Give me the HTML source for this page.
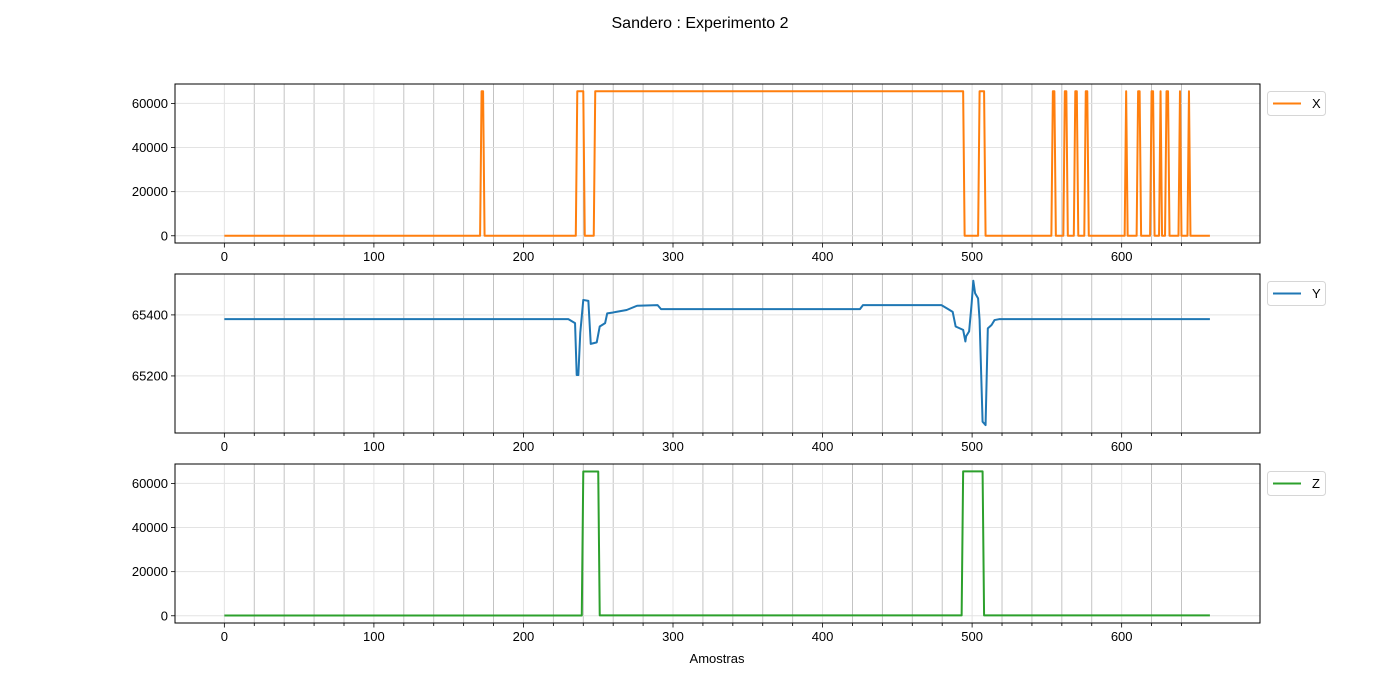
<!DOCTYPE html>
<html><head><meta charset="utf-8">
<style>
html,body{margin:0;padding:0;background:#fff;}
svg{display:block;font-family:"Liberation Sans","DejaVu Sans",sans-serif;}
</style></head>
<body>
<svg id="chart" width="1400" height="700" viewBox="0 0 1400 700" xmlns="http://www.w3.org/2000/svg">
<text x="700" y="28" text-anchor="middle" font-size="16" fill="#000">Sandero : Experimento 2</text>
<text x="717" y="663" text-anchor="middle" font-size="13" fill="#000">Amostras</text>
</svg>
<script>
// ---- data ----
const sampleCount = 660;
const xHighIntervals = [[172,173],[236,240],[248,494],[505,508],[554,555],[562,563],[569,570],[576,577],[603,603],[611,612],[620,621],[626,626],[630,631],[639,639],[645,645]];
const xHighValue = 65535;
const yKnotSamples = [0,228,230,234.5,235.6,236.7,238,240,243.4,245,249,251,254.6,256,260,262,269,276,289.7,292,425,427,479.5,484,487,489,494,495.5,496,498,499.7,500.8,502,504,505,507,509,510.5,513,515,518,659];
const yKnotValues  = [65386,65386,65386,65373,65203,65203,65342,65449,65446,65305,65310,65362,65373,65405,65408,65410,65416,65430,65432,65419,65419,65432,65432,65419,65410,65362,65351,65313,65330,65346,65438,65512,65471,65454,65383,65050,65039,65356,65367,65383,65386,65386];
const zHighIntervals = [[240,250],[494,507]];
const zHighValues = [65400,65450];
const zBaseValues = [100,200];
const xTicks = [0,100,200,300,400,500,600];
const xTickLabels = ["0","100","200","300","400","500","600"];
const yTicksX = [0,20000,40000,60000];
const yTicksY = [65200,65400];
const yTicksZ = [0,20000,40000,60000];

// ---- build series ----
const xSeries = [];
for (let i = 0; i < sampleCount; i++) {
  let v = 0;
  for (const [a,b] of xHighIntervals) if (i >= a && i <= b) v = xHighValue;
  xSeries.push(v);
}
const zSeries = [];
for (let i = 0; i < sampleCount; i++) {
  let v = i < zHighIntervals[0][0] ? zBaseValues[0] : zBaseValues[1];
  zHighIntervals.forEach(([a,b],k) => { if (i >= a && i <= b) v = zHighValues[k]; });
  zSeries.push(v);
}

const svg = document.getElementById('chart');
const NS = 'http://www.w3.org/2000/svg';
function mk(tag, attrs, parent) {
  const e = document.createElementNS(NS, tag);
  for (const k in attrs) e.setAttribute(k, attrs[k]);
  (parent || svg).appendChild(e);
  return e;
}
const L = 175, R = 1260;
const xMin = -33, xMax = 692.5;
const sx = v => L + (v - xMin) / (xMax - xMin) * (R - L);

function panel(name, top, bottom, yMin, yMax, yTicks, xs, ys, color, label) {
  const g = mk('g', {});
  
  
  const sy = v => bottom - (v - yMin) / (yMax - yMin) * (bottom - top);
  for (let t = 0; t <= 640; t += 20) {
    const x = sx(t);
    const major = t % 100 === 0;
    const gl = mk('line', {x1:x, x2:x, y1:top, y2:bottom, stroke: major ? '#e3e3e3' : '#bdbdbd', 'stroke-width': major ? 1 : 0.9}, g);
    
    
    mk('line', {x1:x, x2:x, y1:bottom, y2:bottom + (major ? 4.5 : 3), stroke:'#000', 'stroke-width':0.8}, g);
  }
  yTicks.forEach(t => {
    const y = sy(t);
    const hl = mk('line', {x1:L, x2:R, y1:y, y2:y, stroke:'#e3e3e3', 'stroke-width':1}, g);
    
    
    mk('line', {x1:L - 4, x2:L, y1:y, y2:y, stroke:'#000', 'stroke-width':0.8}, g);
    const tl = mk('text', {x:L - 7, y:y + 4.5, 'text-anchor':'end', 'font-size':13, fill:'#000'}, g);
    tl.textContent = String(t);
    
    
  });
  xTicks.forEach((t, i) => {
    const tl = mk('text', {x:sx(t), y:bottom + 18, 'text-anchor':'middle', 'font-size':13, fill:'#000'}, g);
    tl.textContent = xTickLabels[i];
    
    
  });
  let d = '';
  xs.forEach((x, i) => { d += (i ? 'L' : 'M') + sx(x).toFixed(2) + ' ' + sy(ys[i]).toFixed(2); });
  const p = mk('path', {d:d, fill:'none', stroke:color, 'stroke-width':2, 'stroke-linejoin':'round'}, g);
  
  
  const fr = mk('rect', {x:L, y:top, width:R - L, height:bottom - top, fill:'none', stroke:'#000', 'stroke-width':1}, g);
  
  
  const lg = mk('g', {}, g);
  
  
  mk('rect', {x:1267.5, y:top + 7.5, width:58, height:24, rx:3, fill:'#fff', stroke:'#d6d6d6'}, lg);
  mk('line', {x1:1273, x2:1301, y1:top + 19.5, y2:top + 19.5, stroke:color, 'stroke-width':2}, lg);
  const lt = mk('text', {x:1312, y:top + 24, 'font-size':13, fill:'#000'}, lg);
  lt.textContent = label;
}
const idx = xSeries.map((_, i) => i);
panel('x', 84, 243, -3277, 68812, yTicksX, idx, xSeries, '#ff7f0e', 'X');
panel('y', 274, 433, 65013, 65534, yTicksY, yKnotSamples, yKnotValues, '#1f77b4', 'Y');
panel('z', 464, 623, -3277, 68812, yTicksZ, idx, zSeries, '#2ca02c', 'Z');
</script>
</body></html>
